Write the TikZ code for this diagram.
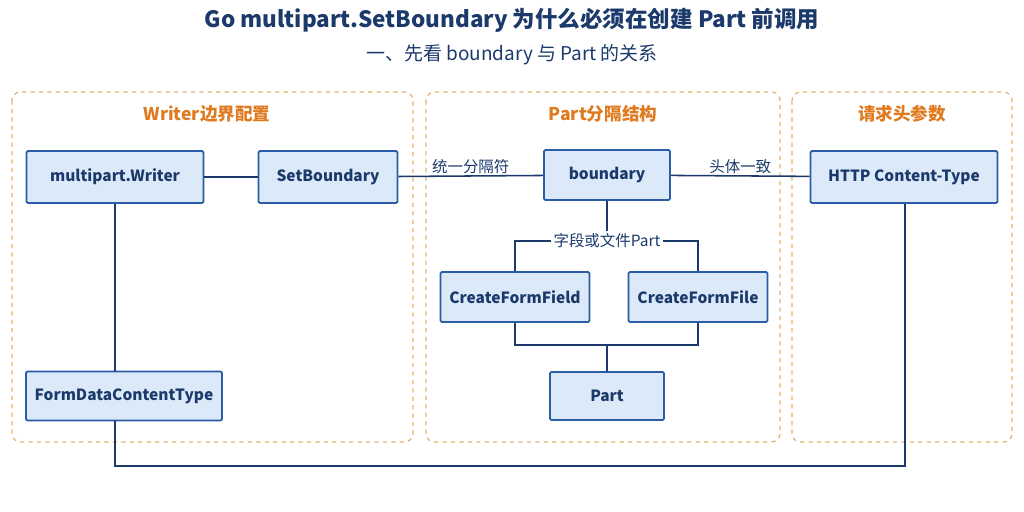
\documentclass[tikz,border=0pt]{standalone}
\usepackage{fontspec}
\setmainfont{Noto Sans CJK SC}
\usetikzlibrary{positioning,calc}
\definecolor{navy}{HTML}{1B3A6B}
\definecolor{boxblue}{HTML}{DCE9F8}
\definecolor{boxline}{HTML}{2A5CA8}
\definecolor{panelorange}{HTML}{E8B070}
\definecolor{titleorange}{HTML}{E07A1F}
\tikzset{
  blk/.style={rectangle, draw=boxline, line width=1.2pt, fill=boxblue, rounded corners=1pt, font=\fontsize{11}{13}\selectfont\bfseries, text=navy, inner sep=0pt},
  panel/.style={draw=panelorange, dashed, line width=0.9pt, rounded corners=6pt},
  ptitle/.style={font=\fontsize{12.5}{14}\selectfont\bfseries, text=titleorange},
  lbl/.style={font=\fontsize{11}{12}\selectfont, text=navy, fill=white, inner sep=2pt},
  wire/.style={draw=navy, line width=1.1pt}
}
\begin{document}
\begin{tikzpicture}[x=0.025cm,y=-0.025cm]
  \useasboundingbox (0,0) rectangle (1024,512);
  % title
  \node[font=\fontsize{16}{18}\selectfont\bfseries, text=navy] (title) at (512,20) {Go multipart.SetBoundary 为什么必须在创建 Part 前调用};
  \node[font=\fontsize{13.5}{15}\selectfont, text=navy] (sub) at (512,55) {一、先看 boundary 与 Part 的关系};
  % panels
  \draw[panel] (12,92) rectangle (413,442);
  \draw[panel] (426,92) rectangle (780,442);
  \draw[panel] (792,92) rectangle (1012,442);
  \node[ptitle] (t1) at (207,114) {Writer边界配置};
  \node[ptitle] (t2) at (603,114) {Part分隔结构};
  \node[ptitle] (t3) at (902,114) {请求头参数};
  % boxes
  \node[blk, minimum width=177*0.025cm, minimum height=52*0.025cm] (writer) at (115,177) {multipart.Writer};
  \node[blk, minimum width=139*0.025cm, minimum height=52*0.025cm] (setb) at (328,177) {SetBoundary};
  \node[blk, minimum width=126*0.025cm, minimum height=50*0.025cm] (bound) at (607,175) {boundary};
  \node[blk, minimum width=187*0.025cm, minimum height=52*0.025cm] (http) at (904,177) {HTTP Content-Type};
  \node[blk, minimum width=149*0.025cm, minimum height=50*0.025cm] (field) at (515,297) {CreateFormField};
  \node[blk, minimum width=139*0.025cm, minimum height=50*0.025cm] (file) at (698,297) {CreateFormFile};
  \node[blk, minimum width=114*0.025cm, minimum height=48*0.025cm] (part) at (607,396) {Part};
  \node[blk, minimum width=196*0.025cm, minimum height=49*0.025cm] (fdct) at (124,396) {FormDataContentType};
  % connectors
  \draw[wire] (writer) -- (setb);
  \draw[wire] (setb) -- (bound) node[lbl, pos=0.5, above=-1pt, fill=none] {统一分隔符};
  \draw[wire] (bound) -- (http) node[lbl, pos=0.5, above=-1pt, fill=none] {头体一致};
  \coordinate (split) at (607,241);
  \draw[wire] (bound) -- (split);
  \draw[wire] (field.north) |- (split) -| (file.north);
  \node[lbl] (splitlbl) at (split) {字段或文件Part};
  \coordinate (join) at (607,345);
  \draw[wire] (field.south) |- (join) -| (file.south);
  \draw[wire] (join) -- (part);
  \draw[wire] (writer.south) -- (writer.south |- fdct.north);
  \coordinate (bl) at (115,466);
  \coordinate (br) at (905,466);
  \draw[wire] (fdct.south -| bl) -- (bl) -- (br) -- (br |- http.south);
\end{tikzpicture}
\end{document}
